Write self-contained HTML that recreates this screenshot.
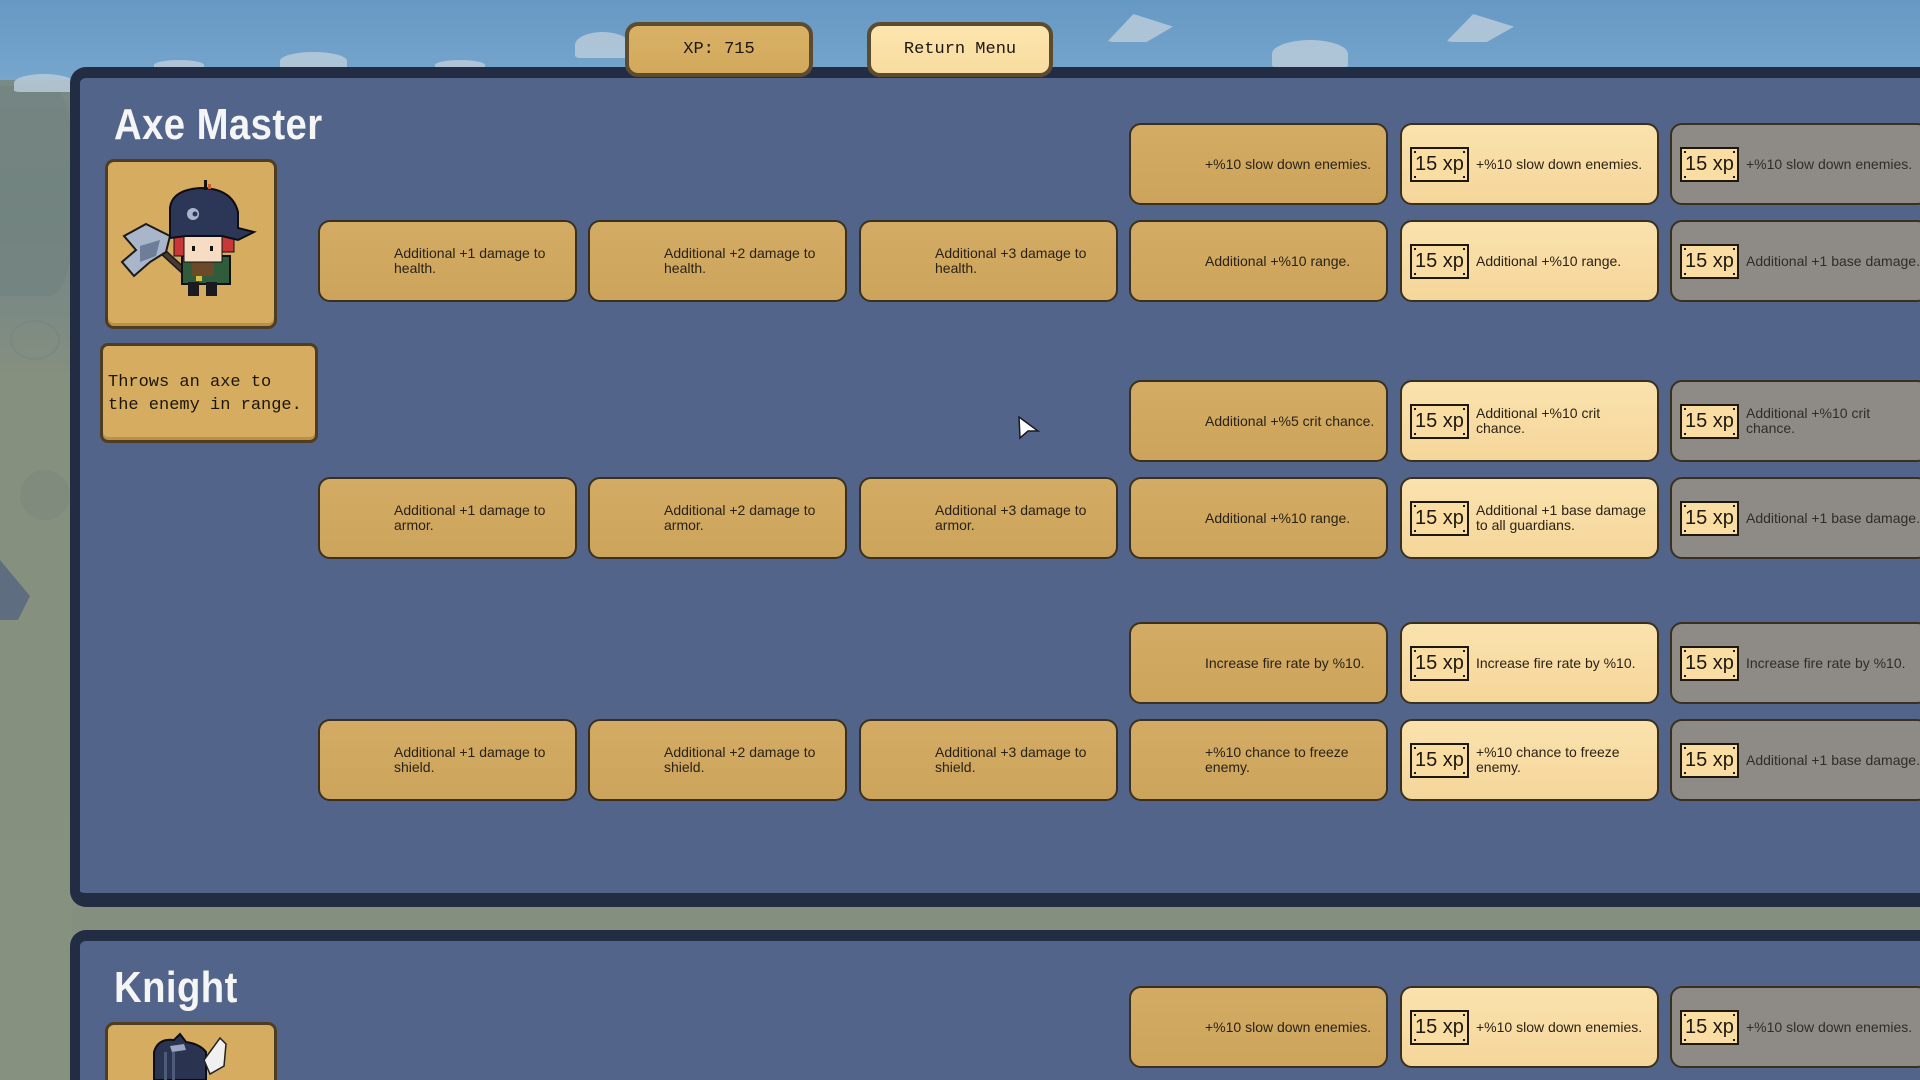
<!DOCTYPE html>
<html>
<head>
<meta charset="utf-8">
<style>
*{margin:0;padding:0;box-sizing:border-box}
html,body{width:1920px;height:1080px;overflow:hidden}
body{position:relative;background:#858f80;font-family:"Liberation Sans",sans-serif}
.sky{position:absolute;left:0;top:0;width:1920px;height:80px;background:linear-gradient(#6698c4,#76a6cd)}
.leftbg{position:absolute;left:0;top:80px;width:72px;height:1000px;background:linear-gradient(#7a8a86 0px,#738480 120px,#7c8a84 230px,#86907f 300px,#87917f 1000px)}
.cloud{position:absolute;background:#b9cad9;border-radius:50% 50% 10% 10%;opacity:.85}
.panel{position:absolute;left:70px;width:1900px;background:#53648a;border:10px solid #222d44;border-top-width:11px;border-bottom-width:14px;border-right:none;border-radius:16px 0 0 16px}
.title{position:absolute;color:#f5f5f5;font-weight:bold;font-size:44px;transform:scaleX(0.87);transform-origin:left top;line-height:44px;letter-spacing:0.5px}
.port{position:absolute;left:105px;width:172px;height:170px;background:#d5ac60;border:3px solid #4f3d22;border-radius:9px;box-shadow:inset 0 -3px 0 #b8904a}
.desc{position:absolute;left:100px;top:343px;width:218px;height:100px;background:#d5ac60;border:3px solid #4f3d22;border-radius:8px;box-shadow:inset 0 -3px 0 #b8904a;font-family:"Liberation Mono",monospace;font-size:17px;line-height:23px;color:#1c150c;padding:25px 0 0 5px;white-space:nowrap}
.btn{position:absolute;top:22px;height:55px;border:4px solid #5d4b2f;border-radius:13px;font-family:"Liberation Mono",monospace;font-size:17px;color:#1c170f;text-align:center;line-height:47px}
.c{position:absolute;width:259px;height:82px;border:2px solid #3a3020;border-radius:12px}
.g{background:linear-gradient(#d3ab64,#cca45b)}
.l{background:linear-gradient(#fae2ad,#f5d69a)}
.r{background:#8e8a85}
.t{position:absolute;left:74px;top:0;bottom:0;display:flex;align-items:center;font-size:14px;line-height:15px;color:#2a2216;white-space:nowrap}
.r .t{color:#302c28}
.b{position:absolute;left:8px;top:22px;width:59px;height:35px;background:#fadda3;border:2px solid #1e1810;font-size:20px;line-height:31px;padding-left:3px;color:#1e1810;white-space:nowrap}
.b::before{content:"";position:absolute;left:2px;top:2px;width:2px;height:2px;background:#1e1810;box-shadow:49px 0 #1e1810,0 25px #1e1810,49px 25px #1e1810}
</style>
</head>
<body>
<div class="sky"></div>
<div class="leftbg"></div>
<!-- trees / scenery on left -->
<div style="position:absolute;left:0;top:86px;width:72px;height:210px;background:#728380;border-radius:0 30% 30% 0;opacity:.7"></div>
<div style="position:absolute;left:10px;top:320px;width:50px;height:40px;border:2px solid #76837a;border-radius:50%;opacity:.5"></div>
<div style="position:absolute;left:20px;top:470px;width:50px;height:50px;background:#7d887c;border-radius:50%;opacity:.6"></div>
<div style="position:absolute;left:0;top:560px;width:30px;height:60px;background:#5f6d80;clip-path:polygon(0 0,100% 60%,60% 100%,0 100%)"></div>
<!-- clouds -->
<div class="cloud" style="left:14px;top:74px;width:60px;height:18px"></div>
<div class="cloud" style="left:154px;top:60px;width:50px;height:10px"></div>
<div class="cloud" style="left:280px;top:52px;width:67px;height:18px"></div>
<div class="cloud" style="left:435px;top:60px;width:50px;height:10px"></div>
<div class="cloud" style="left:575px;top:32px;width:55px;height:26px"></div>
<div class="cloud" style="left:1107px;top:14px;width:66px;height:28px;clip-path:polygon(0 100%,40% 0,100% 45%,60% 100%)"></div>
<div class="cloud" style="left:1272px;top:40px;width:76px;height:28px"></div>
<div class="cloud" style="left:1446px;top:14px;width:68px;height:28px;clip-path:polygon(0 100%,40% 0,100% 45%,60% 100%)"></div>

<!-- panel 1 -->
<div class="panel" style="top:67px;height:840px"></div>
<!-- panel 2 -->
<div class="panel" style="top:930px;height:200px"></div>

<!-- top buttons -->
<div class="btn" style="left:625px;width:188px;background:linear-gradient(#d9b166,#d2a95c)">XP: 715</div>
<div class="btn" style="left:867px;width:186px;background:linear-gradient(#fde5ae,#f8dc9f)">Return Menu</div>

<div class="title" style="left:114px;top:103px">Axe Master</div>
<div class="port" style="top:159px"></div>
<svg style="position:absolute;left:0;top:0" width="300" height="330" viewBox="0 0 300 330">
 <line x1="150" y1="240" x2="198" y2="284" stroke="#1a1a1a" stroke-width="7"/>
 <line x1="150" y1="240" x2="198" y2="284" stroke="#4a3a32" stroke-width="4"/>
 <polygon points="146,224 170,236 166,252 150,262 134,276 122,262 136,250 124,236" fill="#a9b6ca" stroke="#1a1a1a" stroke-width="2"/>
 <polygon points="140,246 160,240 156,256 140,262" fill="#6f7e98"/>
 <rect x="182" y="256" width="48" height="28" fill="#2f5d3b" stroke="#111" stroke-width="2"/>
 <rect x="192" y="262" width="22" height="14" fill="#6b4a2a"/>
 <rect x="196" y="276" width="6" height="5" fill="#d8c040"/>
 <rect x="188" y="282" width="11" height="14" fill="#1a1a20"/>
 <rect x="206" y="282" width="11" height="14" fill="#1a1a20"/>
 <rect x="174" y="232" width="12" height="24" fill="#c83838" stroke="#111" stroke-width="1"/>
 <rect x="220" y="230" width="14" height="22" fill="#c83838" stroke="#111" stroke-width="1"/>
 <rect x="184" y="236" width="38" height="26" fill="#f6dcc2" stroke="#111" stroke-width="1"/>
 <rect x="192" y="246" width="3" height="5" fill="#111"/>
 <rect x="210" y="246" width="3" height="5" fill="#111"/>
 <path d="M170,238 L170,208 Q172,190 200,188 Q232,188 238,212 L238,228 L254,232 L238,240 L222,236 L186,236 Z" fill="#2c3656" stroke="#0d0d14" stroke-width="2"/>
 <rect x="204" y="180" width="3" height="10" fill="#111"/>
 <rect x="208" y="184" width="3" height="5" fill="#d0602a"/>
 <circle cx="193" cy="214" r="6" fill="#aab6cc"/>
 <circle cx="195" cy="214" r="2.5" fill="#2c3656"/>
</svg>
<div class="desc">Throws an axe to<br>the enemy in range.</div>

<!-- row 0 -->
<div class="c g" style="left:1129px;top:123px"><div class="t">+%10 slow down enemies.</div></div>
<div class="c l" style="left:1400px;top:123px"><div class="b">15 xp</div><div class="t">+%10 slow down enemies.</div></div>
<div class="c r" style="left:1670px;top:123px"><div class="b">15 xp</div><div class="t">+%10 slow down enemies.</div></div>
<!-- row 1 -->
<div class="c g" style="left:318px;top:220px"><div class="t">Additional +1 damage to<br>health.</div></div>
<div class="c g" style="left:588px;top:220px"><div class="t">Additional +2 damage to<br>health.</div></div>
<div class="c g" style="left:859px;top:220px"><div class="t">Additional +3 damage to<br>health.</div></div>
<div class="c g" style="left:1129px;top:220px"><div class="t">Additional +%10 range.</div></div>
<div class="c l" style="left:1400px;top:220px"><div class="b">15 xp</div><div class="t">Additional +%10 range.</div></div>
<div class="c r" style="left:1670px;top:220px"><div class="b">15 xp</div><div class="t">Additional +1 base damage.</div></div>
<!-- row 2 -->
<div class="c g" style="left:1129px;top:380px"><div class="t">Additional +%5 crit chance.</div></div>
<div class="c l" style="left:1400px;top:380px"><div class="b">15 xp</div><div class="t">Additional +%10 crit<br>chance.</div></div>
<div class="c r" style="left:1670px;top:380px"><div class="b">15 xp</div><div class="t">Additional +%10 crit<br>chance.</div></div>
<!-- row 3 -->
<div class="c g" style="left:318px;top:477px"><div class="t">Additional +1 damage to<br>armor.</div></div>
<div class="c g" style="left:588px;top:477px"><div class="t">Additional +2 damage to<br>armor.</div></div>
<div class="c g" style="left:859px;top:477px"><div class="t">Additional +3 damage to<br>armor.</div></div>
<div class="c g" style="left:1129px;top:477px"><div class="t">Additional +%10 range.</div></div>
<div class="c l" style="left:1400px;top:477px"><div class="b">15 xp</div><div class="t">Additional +1 base damage<br>to all guardians.</div></div>
<div class="c r" style="left:1670px;top:477px"><div class="b">15 xp</div><div class="t">Additional +1 base damage.</div></div>
<!-- row 4 -->
<div class="c g" style="left:1129px;top:622px"><div class="t">Increase fire rate by %10.</div></div>
<div class="c l" style="left:1400px;top:622px"><div class="b">15 xp</div><div class="t">Increase fire rate by %10.</div></div>
<div class="c r" style="left:1670px;top:622px"><div class="b">15 xp</div><div class="t">Increase fire rate by %10.</div></div>
<!-- row 5 -->
<div class="c g" style="left:318px;top:719px"><div class="t">Additional +1 damage to<br>shield.</div></div>
<div class="c g" style="left:588px;top:719px"><div class="t">Additional +2 damage to<br>shield.</div></div>
<div class="c g" style="left:859px;top:719px"><div class="t">Additional +3 damage to<br>shield.</div></div>
<div class="c g" style="left:1129px;top:719px"><div class="t">+%10 chance to freeze<br>enemy.</div></div>
<div class="c l" style="left:1400px;top:719px"><div class="b">15 xp</div><div class="t">+%10 chance to freeze<br>enemy.</div></div>
<div class="c r" style="left:1670px;top:719px"><div class="b">15 xp</div><div class="t">Additional +1 base damage.</div></div>

<!-- Knight panel -->
<div class="title" style="left:114px;top:966px">Knight</div>
<div class="port" style="top:1022px;height:100px"></div>
<svg style="position:absolute;left:140px;top:1030px" width="100" height="50" viewBox="0 0 100 50">
 <path d="M14,50 L14,22 Q18,8 34,10 L40,4 L46,12 Q60,14 66,22 L66,50 Z" fill="#2a3350" stroke="#0d0d14" stroke-width="2"/>
 <rect x="24" y="22" width="3" height="28" fill="#4e5a7a"/>
 <rect x="32" y="22" width="3" height="28" fill="#4e5a7a"/>
 <path d="M64,30 L80,8 L86,14 L84,36 L70,44 Z" fill="#f0f0f0" stroke="#222" stroke-width="1.5"/>
 <path d="M30,16 L44,14 L46,20 L32,22 Z" fill="#9aa6c2"/>
</svg>
<div class="c g" style="left:1129px;top:986px"><div class="t">+%10 slow down enemies.</div></div>
<div class="c l" style="left:1400px;top:986px"><div class="b">15 xp</div><div class="t">+%10 slow down enemies.</div></div>
<div class="c r" style="left:1670px;top:986px"><div class="b">15 xp</div><div class="t">+%10 slow down enemies.</div></div>

<!-- cursor -->
<svg style="position:absolute;left:1016px;top:415px" width="26" height="26" viewBox="0 0 26 26">
 <polygon points="3,2 22,16 12,16 4,23" fill="#ffffff" stroke="#1a1a24" stroke-width="1.5"/>
</svg>
</body>
</html>
